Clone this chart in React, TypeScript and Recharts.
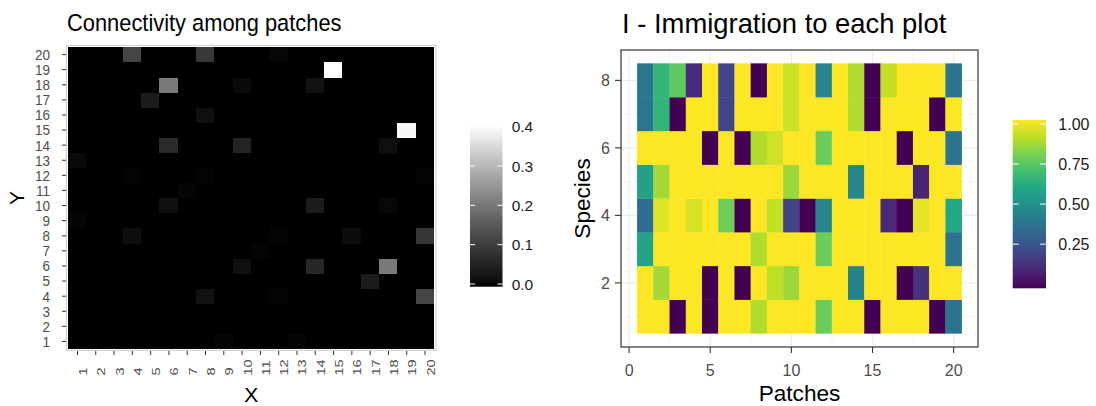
import React from "react";
import { ScatterChart, Scatter, XAxis, YAxis, CartesianGrid } from "recharts";

const FONT = '"Liberation Sans", Arial, Helvetica, sans-serif';

// ---------- Left panel: connectivity among patches (non-zero cells) ----------
const patchIds = [1, 2, 3, 4, 5, 6, 7, 8, 9, 10, 11, 12, 13, 14, 15, 16, 17, 18, 19, 20];
const connX = [4, 8, 12, 15, 6, 10, 14, 5, 8, 19, 6, 10, 18, 1, 4, 8, 20, 7, 6, 14, 18, 1, 4, 12, 16, 20, 11, 10, 14, 18, 17, 8, 12, 20, 9, 13];
const connY = [20, 20, 20, 19, 18, 18, 18, 17, 16, 15, 14, 14, 14, 13, 12, 12, 12, 11, 10, 10, 10, 9, 8, 8, 8, 8, 7, 6, 6, 6, 5, 4, 4, 4, 1, 1];
const connV = [0.12, 0.096, 0.008, 0.41, 0.21, 0.011, 0.021, 0.042, 0.018, 0.4, 0.07, 0.056, 0.018, 0.011, 0.005, 0.005, 0.004, 0.006, 0.018, 0.043, 0.009, 0.006, 0.016, 0.005, 0.013, 0.09, 0.005, 0.017, 0.065, 0.21, 0.042, 0.02, 0.005, 0.12, 0.006, 0.006];
const connBreaks = [0, 0.1, 0.2, 0.3, 0.4];
const connLabels = ["0.0", "0.1", "0.2", "0.3", "0.4"];

// ---------- Right panel: immigration to each plot (species x patches) ----------
const species1 = [1, 1, 0, 1, 0, 1, 1, 0.88, 1, 1, 1, 0.77, 1, 1, 0, 1, 1, 1, 0, 0.38];
const species2 = [1, 0.86, 1, 1, 0, 1, 0, 1, 0.9, 0.85, 1, 1, 1, 0.44, 1, 1, 0, 0.14, 1, 1];
const species3 = [0.58, 1, 1, 1, 1, 1, 1, 0.88, 1, 1, 1, 0.77, 1, 1, 1, 1, 1, 1, 1, 0.38];
const species4 = [0.36, 0.95, 1, 0.94, 1, 0.78, 0, 1, 0.91, 0.2, 0, 0.45, 1, 1, 1, 0.12, 0, 0.96, 1, 0.6];
const species5 = [0.57, 0.86, 1, 1, 1, 1, 1, 1, 1, 0.85, 1, 1, 1, 0.45, 1, 1, 1, 0.1, 1, 1];
const species6 = [1, 1, 1, 1, 0, 1, 0, 0.88, 0.93, 1, 1, 0.77, 1, 1, 1, 1, 0, 1, 1, 0.38];
const species7 = [0.39, 0.65, 0, 1, 1, 0.21, 1, 1, 1, 0.92, 1, 1, 1, 0.88, 0, 1, 1, 1, 0, 1];
const species8 = [0.39, 0.65, 0.75, 0.12, 1, 0.21, 1, 0, 1, 0.92, 1, 0.45, 1, 0.88, 0, 0.91, 1, 1, 1, 0.38];
const patchBreaks = [0, 5, 10, 15, 20];
const speciesBreaks = [2, 4, 6, 8];
const immBreaks = [0.25, 0.5, 0.75, 1];
const immLabels = ["0.25", "0.50", "0.75", "1.00"];

// ---------- derived tables ----------
const connMax = Math.max(...connV);
const connData: { x: number; y: number; v: number }[] = [];
patchIds.forEach((yy) =>
  patchIds.forEach((xx) => {
    let v = 0;
    for (let k = 0; k < connX.length; k++) if (connX[k] === xx && connY[k] === yy) v = connV[k];
    connData.push({ x: xx, y: yy, v });
  })
);
const speciesRows = [species1, species2, species3, species4, species5, species6, species7, species8];
const immData = speciesRows.flatMap((row, i) => row.map((v, j) => ({ x: j + 1, y: i + 1, v })));

// ---------- colour scales ----------
function labGray(t: number) {
  const tt = Math.max(0, Math.min(1, t));
  const L = 100 * tt;
  const Y = L > 8 ? Math.pow((L + 16) / 116, 3) : L / 903.3;
  const c = Y <= 0.0031308 ? 12.92 * Y : 1.055 * Math.pow(Y, 1 / 2.4) - 0.055;
  const g = Math.round(255 * Math.max(0, Math.min(1, c)));
  return `rgb(${g},${g},${g})`;
}
const VIR = ["#440154", "#482475", "#414487", "#355f8d", "#2a788e", "#21918c", "#22a884", "#44bf70", "#7ad151", "#bddf26", "#fde725"];
function hex(h: string) {
  return [parseInt(h.slice(1, 3), 16), parseInt(h.slice(3, 5), 16), parseInt(h.slice(5, 7), 16)];
}
function viridis(t: number) {
  const tt = Math.max(0, Math.min(1, t)) * (VIR.length - 1);
  const i = Math.min(VIR.length - 2, Math.floor(tt));
  const f = tt - i;
  const a = hex(VIR[i]);
  const b = hex(VIR[i + 1]);
  const c = a.map((av, k) => Math.round(av + (b[k] - av) * f));
  return `rgb(${c[0]},${c[1]},${c[2]})`;
}

// ---------- layout constants ----------
const LP = { left: 66.5, top: 45.5, right: 436, bottom: 350.5 };
const LDOM: [number, number] = [0.4, 20.6];
const RX0 = 540;
const RW = 460;
const RP = { left: 621, top: 50, right: 978, bottom: 347 };
const RXDOM: [number, number] = [-0.5, 21.5];
const RYDOM: [number, number] = [0.1, 8.9];

const lcw = (LP.right - LP.left) / (LDOM[1] - LDOM[0]);
const lch = (LP.bottom - LP.top) / (LDOM[1] - LDOM[0]);
const rcw = (RP.right - RP.left) / (RXDOM[1] - RXDOM[0]);
const rch = (RP.bottom - RP.top) / (RYDOM[1] - RYDOM[0]);

const makeCell = (cw: number, ch: number, colorFn: (v: number) => string, crisp: boolean) => (props: any) => {
  const { cx, cy, payload } = props;
  if (cx == null || cy == null) return <g />;
  const col = colorFn(payload.v);
  return (
    <rect
      x={cx - cw / 2}
      y={cy - ch / 2}
      width={cw}
      height={ch}
      fill={col}
      stroke="none"
      shapeRendering={crisp ? "crispEdges" : undefined}
    />
  );
};
const ConnCell = makeCell(lcw + 0.6, lch + 0.6, (v) => labGray(v / connMax), true);
const ImmCell = makeCell(rcw + 0.3, rch + 0.3, (v) => viridis(v), false);

const LeftXTick = (p: any) => (
  <text
    transform={`translate(${p.x + 9.5},${p.y + 20.5}) scale(0.75,1) rotate(-90)`}
    textAnchor="start"
    fontFamily={FONT}
    fontSize={14.5}
    fill="#4D4D4D"
  >
    {p.payload.value}
  </text>
);
const LeftYTick = (p: any) => (
  <text
    transform={`translate(${p.x - 12},${p.y}) scale(0.9,1)`}
    textAnchor="end"
    dy="0.36em"
    fontFamily={FONT}
    fontSize={15}
    fill="#4D4D4D"
  >
    {p.payload.value}
  </text>
);
const RightXTick = (p: any) => (
  <text x={p.x} y={p.y + 22.5} textAnchor="middle" fontFamily={FONT} fontSize={16} fill="#4D4D4D">
    {p.payload.value}
  </text>
);
const RightYTick = (p: any) => (
  <text x={p.x - 5} y={p.y} dy="0.36em" textAnchor="end" fontFamily={FONT} fontSize={16} fill="#4D4D4D">
    {p.payload.value}
  </text>
);

const majorX = [0, 5, 10, 15, 20];
const minorX = [2.5, 7.5, 12.5, 17.5];
const majorY = [2, 4, 6, 8];
const minorY = [1, 3, 5, 7];
const gx = (vals: number[]) => (arg: any) => {
  const o = arg.offset;
  return vals.map((v) => o.left + ((v - RXDOM[0]) / (RXDOM[1] - RXDOM[0])) * o.width);
};
const gy = (vals: number[]) => (arg: any) => {
  const o = arg.offset;
  return vals.map((v) => o.top + ((RYDOM[1] - v) / (RYDOM[1] - RYDOM[0])) * o.height);
};

// legend geometry
const LLEG = { x: 470, y: 125, w: 32.5, h: 161.7, zeroY: 284, perUnit: 393.5, labelX: 511.7 };
const RLEG = { x: 1012.7, y: 120, w: 33.3, h: 168.3, zeroY: 284.2, perUnit: 160.2, labelX: 1058.3 };

export default function App() {
  const grayStops = Array.from({ length: 21 }, (_, i) => i / 20);
  return (
    <div style={{ position: "absolute", left: 0, top: 0, width: 1096, height: 406, background: "#fff", overflow: "hidden" }}>
      <div style={{ position: "absolute", left: 0, top: 0 }}>
        <ScatterChart width={450} height={406} margin={{ top: LP.top, right: 450 - LP.right, bottom: 0, left: 0 }}>
          <XAxis
            type="number"
            dataKey="x"
            domain={LDOM}
            ticks={patchIds}
            interval={0}
            allowDataOverflow
            height={406 - LP.bottom}
            axisLine={false}
            tickLine={{ stroke: "#333", strokeWidth: 1 }}
            tickSize={4.5}
            tickMargin={0}
            tick={LeftXTick}
          />
          <YAxis
            type="number"
            dataKey="y"
            domain={LDOM}
            ticks={patchIds}
            interval={0}
            allowDataOverflow
            width={LP.left}
            axisLine={false}
            tickLine={{ stroke: "#333", strokeWidth: 1 }}
            tickSize={4.5}
            tickMargin={0}
            tick={LeftYTick}
          />
          <Scatter data={connData} shape={ConnCell} isAnimationActive={false} />
        </ScatterChart>
      </div>
      <div style={{ position: "absolute", left: RX0, top: 0 }}>
        <ScatterChart width={RW} height={406} margin={{ top: RP.top, right: RX0 + RW - RP.right, bottom: 0, left: 0 }}>
          <CartesianGrid
            stroke="#EBEBEB"
            strokeWidth={0.6}
            verticalCoordinatesGenerator={gx(minorX)}
            horizontalCoordinatesGenerator={gy(minorY)}
          />
          <CartesianGrid
            stroke="#EBEBEB"
            strokeWidth={1.1}
            verticalCoordinatesGenerator={gx(majorX)}
            horizontalCoordinatesGenerator={gy(majorY)}
          />
          <XAxis
            type="number"
            dataKey="x"
            domain={RXDOM}
            ticks={patchBreaks}
            interval={0}
            allowDataOverflow
            height={406 - RP.bottom}
            axisLine={false}
            tickLine={{ stroke: "#333", strokeWidth: 1.1 }}
            tickSize={6}
            tickMargin={0}
            tick={RightXTick}
          />
          <YAxis
            type="number"
            dataKey="y"
            domain={RYDOM}
            ticks={speciesBreaks}
            interval={0}
            allowDataOverflow
            width={RP.left - RX0}
            axisLine={false}
            tickLine={{ stroke: "#333", strokeWidth: 1.1 }}
            tickSize={6}
            tickMargin={0}
            tick={RightYTick}
          />
          <Scatter data={immData} shape={ImmCell} isAnimationActive={false} />
        </ScatterChart>
      </div>
      <svg width={1096} height={406} style={{ position: "absolute", left: 0, top: 0, pointerEvents: "none" }}>
        <defs>
          <linearGradient id="grayGrad" x1="0" y1="1" x2="0" y2="0">
            {grayStops.map((t) => (
              <stop key={t} offset={t} stopColor={labGray(t)} />
            ))}
          </linearGradient>
          <linearGradient id="virGrad" x1="0" y1="1" x2="0" y2="0">
            {VIR.map((c, i) => (
              <stop key={i} offset={i / (VIR.length - 1)} stopColor={c} />
            ))}
          </linearGradient>
        </defs>
        {/* panel borders */}
        <rect x={LP.left} y={LP.top} width={LP.right - LP.left} height={LP.bottom - LP.top} fill="none" stroke="#CFCFCF" strokeWidth={1} />
        <rect x={RP.left} y={RP.top} width={RP.right - RP.left} height={RP.bottom - RP.top} fill="none" stroke="#333" strokeWidth={1.2} />
        {/* titles */}
        <text transform="translate(67,30.5) scale(0.93,1)" fontFamily={FONT} fontSize={23.5} fill="#000">
          Connectivity among patches
        </text>
        <text x={622} y={33.3} fontFamily={FONT} fontSize={27.4} fill="#000">
          I - Immigration to each plot
        </text>
        {/* axis titles */}
        <text x={(LP.left + LP.right) / 2} y={402} textAnchor="middle" fontFamily={FONT} fontSize={21} fill="#000">
          X
        </text>
        <text transform={`translate(24,${(LP.top + LP.bottom) / 2}) rotate(-90)`} textAnchor="middle" fontFamily={FONT} fontSize={21} fill="#000">
          Y
        </text>
        <text x={(RP.left + RP.right) / 2} y={401} textAnchor="middle" fontFamily={FONT} fontSize={22.6} fill="#000">
          Patches
        </text>
        <text transform={`translate(590,${(RP.top + RP.bottom) / 2}) rotate(-90)`} textAnchor="middle" fontFamily={FONT} fontSize={22.6} fill="#000">
          Species
        </text>
        {/* left colourbar */}
        <rect x={LLEG.x} y={LLEG.y} width={LLEG.w} height={LLEG.h} fill="url(#grayGrad)" />
        {connBreaks.map((b, i) => {
          const y = LLEG.zeroY - b * LLEG.perUnit;
          return (
            <g key={b}>
              <line x1={LLEG.x} x2={LLEG.x + 5} y1={y} y2={y} stroke="#fff" strokeWidth={1} />
              <line x1={LLEG.x + LLEG.w - 5} x2={LLEG.x + LLEG.w} y1={y} y2={y} stroke="#fff" strokeWidth={1} />
              <text x={LLEG.labelX} y={y} dy="0.36em" fontFamily={FONT} fontSize={15.5} fill="#1A1A1A">
                {connLabels[i]}
              </text>
            </g>
          );
        })}
        {/* right colourbar */}
        <rect x={RLEG.x} y={RLEG.y} width={RLEG.w} height={RLEG.h} fill="url(#virGrad)" />
        {immBreaks.map((b, i) => {
          const y = RLEG.zeroY - b * RLEG.perUnit;
          return (
            <g key={b}>
              <line x1={RLEG.x} x2={RLEG.x + 6} y1={y} y2={y} stroke="#fff" strokeWidth={1} />
              <line x1={RLEG.x + RLEG.w - 6} x2={RLEG.x + RLEG.w} y1={y} y2={y} stroke="#fff" strokeWidth={1} />
              <text x={RLEG.labelX} y={y} dy="0.36em" fontFamily={FONT} fontSize={16} fill="#1A1A1A">
                {immLabels[i]}
              </text>
            </g>
          );
        })}
      </svg>
    </div>
  );
}
